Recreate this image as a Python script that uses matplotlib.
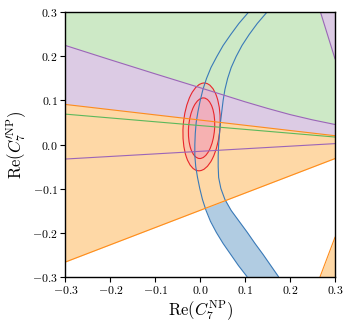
import matplotlib

matplotlib.use("Agg")
import matplotlib.pyplot as plt
from matplotlib.patches import Ellipse
from matplotlib.ticker import FuncFormatter

plt.rcParams["mathtext.fontset"] = "cm"

# Colours (fill, edge) per constraint.
FILL_BLUE, LINE_BLUE = "#b1cce2", "#3a7ab8"
FILL_GREEN, LINE_GREEN = "#cde9c6", "#5cb85c"
FILL_PURPLE, LINE_PURPLE = "#dccbe4", "#9b65b8"
FILL_ORANGE, LINE_ORANGE = "#fed8a6", "#ff8c1a"
FILL_RED, LINE_RED = "#f5a8b5", "#e8262b"

# Axis range and ticks.
LIM = (-0.3, 0.3)
TICKS = [-0.3, -0.2, -0.1, 0.0, 0.1, 0.2, 0.3]

# Straight boundaries, read at the left (x=-0.3) and right (x=0.3) edges.
EDGE_X = [-0.3, 0.3]
GREEN_Y = [0.069, 0.017]
ORANGE_UP_Y = [0.091, 0.020]
ORANGE_LO_Y = [-0.267, -0.032]
PURPLE_LO_Y = [-0.033, 0.002]

# Curved upper purple boundary.
PURPLE_UP_X = [-0.3, -0.2, -0.1, 0.0, 0.1, 0.15, 0.2, 0.25, 0.3]
PURPLE_UP_Y = [0.225, 0.1925, 0.1605, 0.129, 0.097, 0.082, 0.068, 0.056, 0.0455]

# Corner pieces (top right purple, bottom right orange).
PURPLE_CORNER_X = [0.268, 0.3]
PURPLE_CORNER_Y = [0.3, 0.195]
ORANGE_CORNER_X = [0.267, 0.3]
ORANGE_CORNER_Y = [-0.3, -0.211]

# Blue band: inner (left) and outer (right) arcs, x read at fixed heights.
BAND_Y = [0.3, 0.275, 0.25, 0.225, 0.2, 0.175, 0.15, 0.125, 0.1, 0.075, 0.05, 0.025, 0.0,
          -0.025, -0.05, -0.075, -0.1, -0.125, -0.15, -0.175, -0.2, -0.225, -0.25, -0.275, -0.3]
BAND_INNER_X = [0.107, 0.086, 0.068, 0.051, 0.037, 0.024, 0.014, 0.006, 0.0, -0.005, -0.009, -0.011, -0.012,
                -0.012, -0.010, -0.006, -0.001, 0.005, 0.013, 0.023, 0.036, 0.051, 0.068, 0.085, 0.104]
BAND_OUTER_X = [0.148, 0.127, 0.109, 0.093, 0.080, 0.069, 0.061, 0.055, 0.051, 0.048, 0.045, 0.043, 0.041,
                0.040, 0.040, 0.041, 0.046, 0.055, 0.069, 0.087, 0.105, 0.122, 0.140, 0.157, 0.174]

# Fit ellipses (outer, inner): centre, full width, full height, fill alpha; common tilt.
FIT_CENTER = [(0.003, 0.040), (0.003, 0.037)]
FIT_WIDTH = [0.082, 0.058]
FIT_HEIGHT = [0.200, 0.138]
FIT_ALPHA = [0.4, 0.65]
FIT_ANGLE = -4

fig = plt.figure(figsize=(3.52, 3.28), dpi=100)
ax = fig.add_axes([0.186, 0.157, 0.7656, 0.8049])

# fills, bottom to top
ax.fill_betweenx(BAND_Y, BAND_INNER_X, BAND_OUTER_X, color=FILL_BLUE, lw=0)
ax.fill_between(EDGE_X, GREEN_Y, [LIM[1]] * 2, color=FILL_GREEN, lw=0)
ax.fill(PURPLE_UP_X + EDGE_X[::-1], PURPLE_UP_Y + PURPLE_LO_Y[::-1], color=FILL_PURPLE, lw=0)
ax.fill_between(PURPLE_CORNER_X, PURPLE_CORNER_Y, [LIM[1]] * 2, color=FILL_PURPLE, lw=0)
ax.fill_between(EDGE_X, ORANGE_LO_Y, ORANGE_UP_Y, color=FILL_ORANGE, lw=0)
ax.fill_between(ORANGE_CORNER_X, [LIM[0]] * 2, ORANGE_CORNER_Y, color=FILL_ORANGE, lw=0)

# boundaries
lw = 0.8
ax.plot(BAND_INNER_X, BAND_Y, color=LINE_BLUE, lw=lw)
ax.plot(BAND_OUTER_X, BAND_Y, color=LINE_BLUE, lw=lw)
ax.plot(EDGE_X, GREEN_Y, color=LINE_GREEN, lw=lw)
ax.plot(PURPLE_UP_X, PURPLE_UP_Y, color=LINE_PURPLE, lw=lw)
ax.plot(EDGE_X, PURPLE_LO_Y, color=LINE_PURPLE, lw=lw)
ax.plot(PURPLE_CORNER_X, PURPLE_CORNER_Y, color=LINE_PURPLE, lw=lw)
ax.plot(EDGE_X, ORANGE_UP_Y, color=LINE_ORANGE, lw=lw)
ax.plot(EDGE_X, ORANGE_LO_Y, color=LINE_ORANGE, lw=lw)
ax.plot(ORANGE_CORNER_X, ORANGE_CORNER_Y, color=LINE_ORANGE, lw=lw)

for c, w, h, a in zip(FIT_CENTER, FIT_WIDTH, FIT_HEIGHT, FIT_ALPHA):
    ax.add_patch(Ellipse(c, w, h, angle=FIT_ANGLE, facecolor=FILL_RED, alpha=a, edgecolor="none"))
for c, w, h in zip(FIT_CENTER, FIT_WIDTH, FIT_HEIGHT):
    ax.add_patch(Ellipse(c, w, h, angle=FIT_ANGLE, facecolor="none", edgecolor=LINE_RED, lw=lw))

ax.set_xlim(*LIM)
ax.set_ylim(*LIM)
ax.set_xticks(TICKS)
ax.set_yticks(TICKS)
fmt = FuncFormatter(lambda v, _: f"${v:.1f}$")
ax.xaxis.set_major_formatter(fmt)
ax.yaxis.set_major_formatter(fmt)
ax.tick_params(direction="out", length=3.5, width=0.8, labelsize=8.5, pad=2)
for s in ax.spines.values():
    s.set_linewidth(1.0)
ax.set_xlabel(r"$\mathrm{Re}(C_7^{\mathrm{NP}})$", fontsize=12, labelpad=1)
ax.set_ylabel(r"$\mathrm{Re}(C_7^{\prime\mathrm{NP}})$", fontsize=12, labelpad=2)

fig.savefig("out.png", dpi=100)
